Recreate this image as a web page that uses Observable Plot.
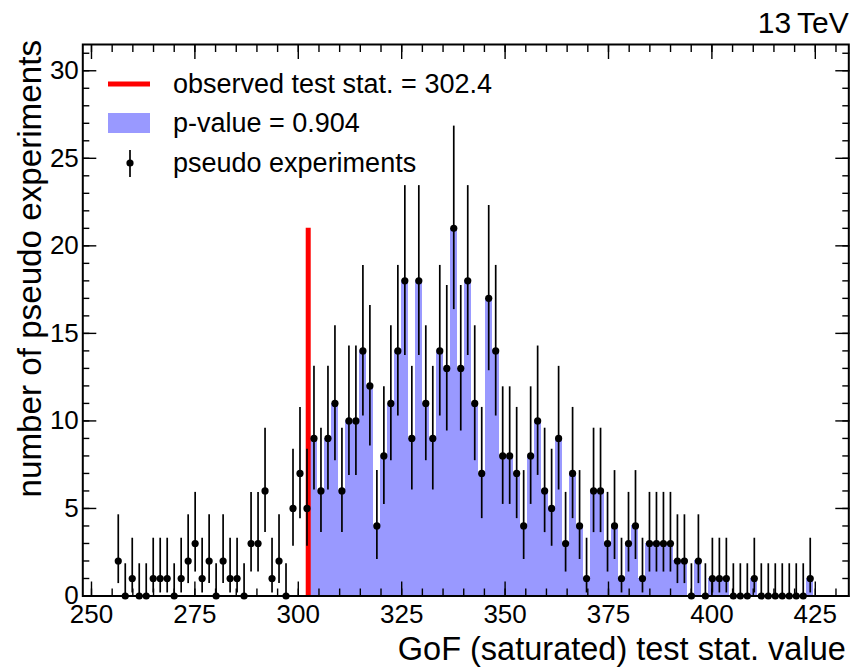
<!DOCTYPE html>
<html><head><meta charset="utf-8">
<script src="https://cdn.jsdelivr.net/npm/d3@7"></script>
<script src="https://cdn.jsdelivr.net/npm/@observablehq/plot@0.6"></script>
<style>
html,body{margin:0;padding:0;background:#fff;}
svg text{font-family:"Liberation Sans",Arial,Helvetica,sans-serif;}
</style></head><body><div id="chart"></div>
<script>
// ---- data ----
const histMin = 255.63;   // lower edge of first bin
const histMax = 424.62;   // upper edge of last bin
const counts = [
  2,0,1,0,0,1,1,1,0,1,
  2,3,1,2,0,2,1,1,0,3,
  3,6,1,2,0,5,7,5,9,6,
  9,11,6,10,10,14,12,4,8,11,
  14,18,9,18,11,9,14,13,21,13,
  18,11,7,17,14,8,8,7,4,8,
  10,6,5,9,3,7,4,1,6,6,
  3,4,1,3,4,1,3,3,3,3,
  2,2,0,2,0,1,1,1,0,0,
  0,1,0,0,0,0,0,0,0,1
];
const observed = 302.4;
const pValue = 0.904;
// Garwood (68.27%) Poisson interval ends for n = 0..21 (as drawn)
const garwoodLow = [0,0.1727,0.7083,1.3672,2.0856,2.8403,3.6200,4.4183,5.2307,6.0545,6.8871,7.7270,8.5727,9.4235,10.2788,11.1380,12.0008,12.8667,13.7356,14.6070,15.4808,16.3567];
const garwoodHigh = [1.8410,3.2996,4.6379,5.9181,7.1627,8.3825,9.5837,10.7710,11.9479,13.1163,14.2782,15.4349,16.5873,17.7361,18.8818,20.0246,21.1650,22.3033,23.4396,24.5741,25.7072,26.8389];
const xTicks = [250,275,300,325,350,375,400,425];
const yTicks = [0,5,10,15,20,25,30];
const xTitle = "GoF (saturated) test stat. value";
const yTitle = "number of pseudo experiments";
const energyLabel = "13\u2009TeV";
const legendLabels = ["observed test stat. = " + observed, "p-value = " + pValue, "pseudo experiments"];

// ---- derived table ----
const nBins = counts.length;
const bw = (histMax - histMin) / nBins;
const bins = counts.map((n, i) => ({
  x1: histMin + i * bw, x2: histMin + (i + 1) * bw, xc: histMin + (i + 0.5) * bw,
  n, lo: garwoodLow[n], hi: garwoodHigh[n]
}));
const tail = bins.filter(b => b.x1 >= observed);
const maxCount = d3.max(counts);

const FONT = '"Liberation Sans",Arial,Helvetica,sans-serif';
const xMinor = d3.range(250, 431, 5);
const yMinor = d3.range(0, 32, 1);

const plot = Plot.plot({
  width: 852, height: 669,
  marginLeft: 82.3, marginRight: 3.7, marginTop: 44, marginBottom: 73.5,
  style: {fontFamily: FONT, background: "white", color: "black", overflow: "visible"},
  x: {domain: [247.9, 433.1]},
  y: {domain: [0, 31.5]},
  marks: [
    Plot.rectY(tail, {x1: "x1", x2: "x2", y: "n", fill: "#9999ff", shapeRendering: "crispEdges"}),
    Plot.ruleX([observed], {x: d => d, y1: 0, y2: maxCount, stroke: "#ff0000", strokeWidth: 5}),
    Plot.ruleX(bins, {x: "xc", y1: "lo", y2: "hi", stroke: "black", strokeWidth: 1.7}),
    Plot.dot(bins, {x: "xc", y: "n", r: 3.6, fill: "black", stroke: null}),
    // inward ticks
    Plot.axisX({anchor: "bottom", ticks: xMinor, tickSize: -7, tickFormat: () => "", label: null, strokeWidth: 1.4}),
    Plot.axisX({anchor: "bottom", ticks: xTicks, tickSize: -14, tickFormat: () => "", label: null, strokeWidth: 1.4}),
    Plot.axisX({anchor: "top", ticks: xMinor, tickSize: -7, tickFormat: () => "", label: null, strokeWidth: 1.4}),
    Plot.axisX({anchor: "top", ticks: xTicks, tickSize: -14, tickFormat: () => "", label: null, strokeWidth: 1.4}),
    Plot.axisY({anchor: "left", ticks: yMinor, tickSize: -7, tickFormat: () => "", label: null, strokeWidth: 1.4}),
    Plot.axisY({anchor: "left", ticks: yTicks, tickSize: -14, tickFormat: () => "", label: null, strokeWidth: 1.4}),
    Plot.axisY({anchor: "right", ticks: yMinor, tickSize: -7, tickFormat: () => "", label: null, strokeWidth: 1.4}),
    Plot.axisY({anchor: "right", ticks: yTicks, tickSize: -14, tickFormat: () => "", label: null, strokeWidth: 1.4}),
    // tick labels
    Plot.axisX({anchor: "bottom", ticks: xTicks, tickSize: 0, tickPadding: 9, fontSize: 26, label: null}),
    Plot.axisY({anchor: "left", ticks: yTicks, tickSize: 0, tickPadding: 4, fontSize: 26, label: null}),
    // titles
    Plot.text([xTitle], {text: d => d, frameAnchor: "bottom-right", textAnchor: "end", lineAnchor: "bottom", dy: 64, dx: -3, fontSize: 32.5, fill: "black"}),
    Plot.text([energyLabel], {text: d => d, frameAnchor: "top-right", textAnchor: "end", lineAnchor: "bottom", dy: -12, dx: 0, fontSize: 30, fill: "black"}),
    Plot.frame({stroke: "black", strokeWidth: 2})
  ]
});

const svg = d3.select(plot);
// y axis title (rotated)
svg.append("text")
  .attr("transform", "translate(41,40) rotate(-90)")
  .attr("text-anchor", "end")
  .attr("font-size", 33.2)
  .attr("fill", "black")
  .text(yTitle);

// legend
const lg = svg.append("g").attr("text-anchor", "start");
lg.append("line").attr("x1", 108).attr("x2", 150).attr("y1", 84).attr("y2", 84)
  .attr("stroke", "#ff0000").attr("stroke-width", 5);
lg.append("rect").attr("x", 108).attr("y", 113).attr("width", 42).attr("height", 20).attr("fill", "#9999ff");
lg.append("line").attr("x1", 130).attr("x2", 130).attr("y1", 150).attr("y2", 177)
  .attr("stroke", "black").attr("stroke-width", 1.7);
lg.append("circle").attr("cx", 130).attr("cy", 163).attr("r", 3.6).attr("fill", "black");
legendLabels.forEach((t, i) => {
  lg.append("text").attr("x", 173).attr("y", [84, 123, 163][i]).attr("dy", "0.35em")
    .attr("text-anchor", "start")
    .attr("font-size", 27).attr("fill", "black").text(t);
});

document.getElementById("chart").appendChild(plot);
</script></body></html>
